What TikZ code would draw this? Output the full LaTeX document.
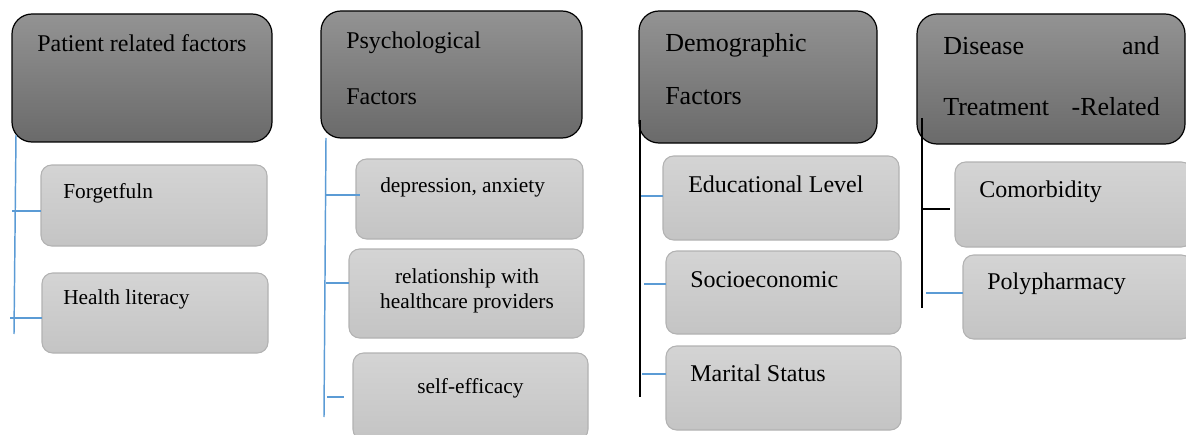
\documentclass[tikz,border=0pt]{standalone}
\usepackage{fontspec}
\setmainfont{Liberation Serif}
\usetikzlibrary{calc}

\definecolor{hdtop}{HTML}{939393}
\definecolor{hdbot}{HTML}{6A6A6A}
\definecolor{sbtop}{HTML}{D4D4D4}
\definecolor{sbbot}{HTML}{C4C4C4}
\definecolor{sbline}{HTML}{B2B2B2}
\definecolor{linkblue}{HTML}{5B9BD5}

% box from corner (x1,y1) to corner (x2,y2), in pixel units
\newcommand\placebox[6]{%
  \node[#2, minimum width={(#5-#3)*0.75pt}, minimum height={(#6-#4)*0.75pt}]
    (#1) at ({(#3+#5)/2},{(#4+#6)/2}) {};}

\tikzset{
  header/.style={draw=black, line width=0.9pt, rounded corners=15pt,
    top color=hdtop, bottom color=hdbot, inner sep=0pt, outer sep=0pt},
  subbox/.style={draw=sbline, line width=0.8pt, rounded corners=8pt,
    top color=sbtop, bottom color=sbbot, inner sep=0pt, outer sep=0pt},
  bigtext/.style={font=\fontsize{18}{22}\selectfont, inner sep=0pt, anchor=base west},
  hugetext/.style={font=\fontsize{19.5}{24}\selectfont, inner sep=0pt, anchor=base west},
  smalltext/.style={font=\fontsize{16}{19}\selectfont, inner sep=0pt, anchor=base west},
  blueline/.style={draw=linkblue, line width=1.1pt},
  blackline/.style={draw=black, line width=1.1pt}
}

\begin{document}
\begin{tikzpicture}[x=0.75pt, y=-0.75pt]
\useasboundingbox (0,0) rectangle (1186,435);
\clip (0,0) rectangle (1186,435);

% category headers
\placebox{h1}{header}{12}{14}{272}{142}
\placebox{h2}{header}{321}{11}{582}{138}
\placebox{h3}{header}{639}{11}{877}{143}
\placebox{h4}{header}{917}{14}{1185}{144}

% factor boxes
\placebox{c11}{subbox}{41}{165}{267}{246}
\placebox{c12}{subbox}{42}{273}{268}{353}
\placebox{c21}{subbox}{356}{159}{583}{239}
\placebox{c22}{subbox}{349}{249}{584}{338}
\placebox{c23}{subbox}{353}{353}{588}{440}
\placebox{c31}{subbox}{663}{156}{899}{240}
\placebox{c32}{subbox}{666}{251}{901}{334}
\placebox{c33}{subbox}{666}{346}{901}{430}
\placebox{c41}{subbox}{955}{162}{1192}{247}
\placebox{c42}{subbox}{963}{255}{1192}{339}

% header texts
\node[bigtext] (t1) at (37,52) {Patient related factors};
\node[bigtext] (t2a) at (346,49) {Psychological};
\node[bigtext] (t2b) at (346,104) {Factors};
\node[hugetext] (t3a) at (665,52) {Demographic};
\node[hugetext] (t3b) at (665,104) {Factors};
\node[hugetext] (t4a) at (943,55) {Disease};
\node[hugetext, anchor=base east] (t4b) at (1160,55) {and};
\node[hugetext] (t4c) at (943,116) {Treatment};
\node[hugetext, anchor=base east] (t4d) at (1160,116) {-Related};

% factor texts
\node[smalltext] (u11) at (63,198) {Forgetfuln};
\node[smalltext] (u12) at (63,304) {Health literacy};
\node[smalltext] (u21) at (380,192) {depression, anxiety};
\node[smalltext, anchor=base] (u22a) at (467,283) {relationship with};
\node[smalltext, anchor=base] (u22b) at (467,308) {healthcare providers};
\node[smalltext] (u23) at (417,393) {self-efficacy};
\node[bigtext] (u31) at (688,192) {Educational Level};
\node[bigtext] (u32) at (690,287) {Socioeconomic};
\node[bigtext] (u33) at (690,381) {Marital Status};
\node[bigtext] (u41) at (979,197) {Comorbidity};
\node[bigtext] (u42) at (987,289) {Polypharmacy};

% connector end points
\coordinate (s1) at (16,135);  \coordinate (e1) at (14,334);
\coordinate (b11) at (12,211); \coordinate (b12) at (10,318);
\coordinate (s2) at (326,138); \coordinate (e2) at (324,417);
\coordinate (b21) at (326,195); \coordinate (b22) at (326,283);
\coordinate (b23) at (327,397);
\coordinate (s3) at (640,120); \coordinate (e3) at (640,397);
\coordinate (b31) at (641,196); \coordinate (b32) at (644,284);
\coordinate (b33) at (642,374);
\coordinate (s4) at (922,118); \coordinate (e4) at (922,308);
\coordinate (b41) at (922,209); \coordinate (b42) at (926,293);

% column 1
\draw[blueline] (s1) -- (e1);
\draw[blueline] (b11) -- (b11 -| c11.west);
\draw[blueline] (b12) -- (b12 -| c12.west);
% column 2
\draw[blueline] (s2) -- (e2);
\draw[blueline] (b21) -- ($(b21 -| c21.west)+(4,0)$);
\draw[blueline] (b22) -- (b22 -| c22.west);
\draw[blueline] (b23) -- ($(b23 -| c23.west)+(-9,0)$);
% column 3
\draw[blackline] (s3) -- (e3);
\draw[blueline] (b31) -- (b31 -| c31.west);
\draw[blueline] (b32) -- (b32 -| c32.west);
\draw[blueline] (b33) -- (b33 -| c33.west);
% column 4
\draw[blackline] (s4) -- (e4);
\draw[blackline] (b41) -- ($(b41 -| c41.west)+(-5,0)$);
\draw[blueline] (b42) -- (b42 -| c42.west);
\end{tikzpicture}
\end{document}
